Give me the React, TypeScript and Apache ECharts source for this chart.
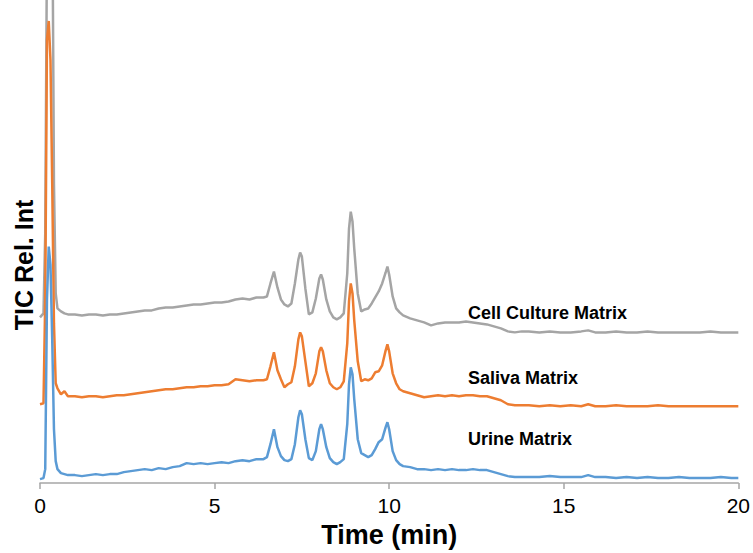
import React, { useEffect, useRef } from "react";
import * as echarts from "echarts";

// Retention time (min), shared by all three traces
const TIME = [
  0, 0.1, 0.15, 0.2, 0.25, 0.3, 0.35, 0.4, 0.45, 0.5,
  0.6, 0.7, 0.8, 1.0, 1.2, 1.4, 1.6, 1.8, 2.0, 2.2,
  2.4, 2.6, 2.8, 3.0, 3.2, 3.4, 3.6, 3.8, 4.0, 4.2,
  4.4, 4.6, 4.8, 5.0, 5.2, 5.4, 5.6, 5.8, 6.0, 6.2,
  6.4, 6.5, 6.6, 6.7, 6.8, 6.9, 7.0, 7.1, 7.2, 7.3,
  7.4, 7.45, 7.5, 7.6, 7.7, 7.8, 7.9, 8.0, 8.05, 8.1,
  8.2, 8.3, 8.4, 8.5, 8.6, 8.7, 8.8, 8.85, 8.9, 8.95,
  9.0, 9.1, 9.2, 9.3, 9.4, 9.5, 9.6, 9.7, 9.8, 9.9,
  9.95, 10.0, 10.1, 10.2, 10.3, 10.4, 10.6, 10.8, 11.0, 11.2,
  11.4, 11.6, 11.8, 12.0, 12.2, 12.4, 12.6, 12.8, 13.0, 13.2,
  13.4, 13.6, 13.8, 14.0, 14.3, 14.6, 14.9, 15.2, 15.5, 15.7,
  15.9, 16.2, 16.5, 16.8, 17.1, 17.4, 17.7, 18.0, 18.3, 18.6,
  18.9, 19.2, 19.5, 19.8, 20.0,
];

// Stacked TIC traces (relative intensity, offset per matrix)
const URINE = [
  4, 5, 14, 184, 237, 219, 144, 54, 22, 14,
  10, 9, 8, 8, 7, 8, 9, 8, 9, 9,
  11, 12, 13, 14, 13, 15, 14, 16, 17, 20,
  19, 20, 19, 20, 21, 20, 22, 23, 22, 24,
  24, 26, 39, 54, 36, 27, 23, 22, 24, 39,
  66, 73, 69, 44, 25, 23, 32, 54, 59, 54,
  36, 25, 21, 19, 21, 24, 59, 99, 116, 109,
  84, 44, 30, 28, 26, 28, 34, 41, 44, 56,
  61, 54, 32, 23, 19, 17, 16, 14, 14, 13,
  14, 13, 14, 13, 13, 14, 13, 13, 11, 9,
  7, 6, 6, 6, 6, 7, 6, 6, 6, 8,
  6, 6, 5, 6, 5, 6, 5, 5, 6, 5,
  5, 5, 6, 5, 5,
];

const SALIVA = [
  79, 80, 184, 444, 463, 424, 300, 160, 100, 95,
  89, 92, 87, 87, 86, 87, 87, 86, 87, 88,
  88, 89, 90, 91, 92, 93, 94, 94, 95, 96,
  96, 97, 97, 98, 98, 99, 104, 103, 102, 103,
  103, 104, 117, 131, 113, 104, 96, 99, 101, 117,
  144, 151, 147, 122, 97, 100, 110, 132, 136, 132,
  113, 100, 96, 94, 96, 102, 140, 182, 200, 190,
  163, 122, 102, 104, 103, 105, 111, 112, 118, 133,
  139, 132, 110, 100, 94, 92, 90, 88, 86, 87,
  88, 87, 88, 87, 88, 88, 87, 87, 85, 83,
  79, 78, 78, 78, 77, 78, 77, 78, 77, 79,
  77, 77, 78, 77, 77, 77, 78, 77, 77, 77,
  77, 77, 77, 77, 77,
];

const CELL_CULTURE = [
  166, 170, 250, 540, 640, 630, 600, 300, 190, 175,
  172, 170, 169, 169, 168, 169, 169, 168, 169, 169,
  170, 171, 172, 173, 173, 175, 176, 176, 177, 178,
  179, 179, 180, 181, 181, 182, 184, 185, 184, 186,
  186, 187, 200, 212, 196, 184, 179, 177, 180, 200,
  224, 231, 227, 195, 169, 171, 185, 205, 209, 204,
  184, 172, 166, 164, 166, 170, 210, 255, 272, 262,
  235, 190, 172, 174, 175, 180, 186, 192, 200, 211,
  217, 209, 187, 175, 171, 168, 165, 163, 161, 158,
  160, 161, 161, 161, 162, 161, 160, 159, 157, 155,
  152, 151, 152, 152, 151, 152, 151, 151, 152, 153,
  151, 151, 152, 151, 151, 152, 151, 151, 151, 151,
  151, 152, 151, 151, 151,
];

const SERIES_NAMES = ["Cell Culture Matrix", "Saliva Matrix", "Urine Matrix"];
const SERIES_VALUES = [CELL_CULTURE, SALIVA, URINE];
const COLORS = ["#a5a5a5", "#ed7d31", "#5b9bd5"];
const X_TICKS = [0, 5, 10, 15, 20];
const Y_TITLE = "TIC Rel. Int";
const X_TITLE = "Time (min)";

const FONT = "'Liberation Sans', Arial, Helvetica, sans-serif";

export default function App() {
  const ref = useRef<HTMLDivElement>(null);

  useEffect(() => {
    if (!ref.current) return;
    const chart = echarts.init(ref.current, undefined, { renderer: "svg" });

    const series = SERIES_VALUES.map((vals, i) => ({
      name: SERIES_NAMES[i],
      type: "line",
      data: TIME.map((t, k) => [t, vals[k]]),
      showSymbol: false,
      symbol: "none",
      lineStyle: { color: COLORS[i], width: 2.5 },
      itemStyle: { color: COLORS[i] },
      clip: true,
      z: 2 + i,
    }));

    const labelStyle = { fontFamily: FONT, fontSize: 18, fontWeight: "bold", fill: "#000" };

    chart.setOption({
      animation: false,
      backgroundColor: "#ffffff",
      grid: { left: 40, right: 13, top: 0, bottom: 69 },
      xAxis: {
        type: "value",
        min: X_TICKS[0],
        max: X_TICKS[X_TICKS.length - 1],
        interval: 5,
        name: X_TITLE,
        nameLocation: "middle",
        nameGap: 37,
        nameTextStyle: { fontFamily: FONT, fontSize: 27, fontWeight: "bold", color: "#000" },
        axisLine: { show: true, lineStyle: { color: "#a6a6a6", width: 1.5 } },
        axisTick: { show: true, length: 6, lineStyle: { color: "#a6a6a6", width: 1.5 } },
        axisLabel: { fontFamily: FONT, fontSize: 21, color: "#000", margin: 12 },
        splitLine: { show: false },
      },
      yAxis: {
        type: "value",
        min: 0,
        max: 484,
        axisLine: { show: false },
        axisTick: { show: false },
        axisLabel: { show: false },
        splitLine: { show: false },
      },
      series,
      graphic: [
        {
          type: "text",
          x: 24,
          y: 265,
          rotation: Math.PI / 2,
          style: {
            text: Y_TITLE,
            fontFamily: FONT,
            fontSize: 25,
            fontWeight: "bold",
            fill: "#000",
            align: "center",
            verticalAlign: "middle",
          },
        },
        { type: "text", left: 468, top: 304, style: { text: SERIES_NAMES[0], ...labelStyle } },
        { type: "text", left: 468, top: 369, style: { text: SERIES_NAMES[1], ...labelStyle } },
        { type: "text", left: 468, top: 430, style: { text: SERIES_NAMES[2], ...labelStyle } },
      ],
    });

    return () => chart.dispose();
  }, []);

  return (
    <div
      ref={ref}
      style={{ position: "fixed", left: 0, top: 0, width: 753, height: 553, background: "#fff" }}
    />
  );
}
